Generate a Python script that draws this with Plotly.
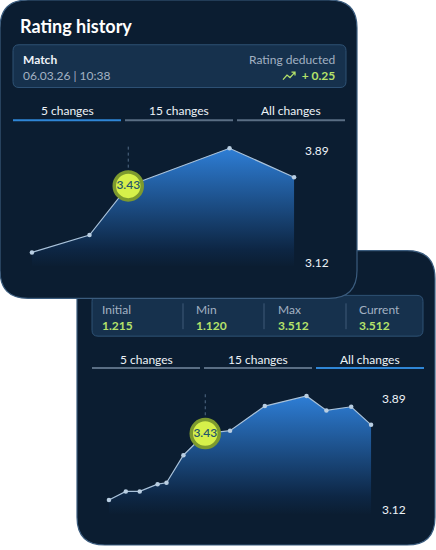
import plotly.graph_objects as go

# ---------------- data ----------------
x_all = [0, 17, 31, 49, 58, 75, 97, 122, 157, 199, 219, 244, 264]
y_all = [3.19, 3.25, 3.25, 3.30, 3.31, 3.50, 3.65, 3.67, 3.84, 3.91, 3.81, 3.835, 3.71]
five_idx = [0, 4, 6, 9, 12]          # points shown in "5 changes" view
highlight_idx = 6
highlight_label = "3.43"
tick_vals = [3.12, 3.89]
tick_text = ["3.12", "3.89"]
tabs = ["5 changes", "15 changes", "All changes"]
stat_names = ["Initial", "Min", "Max", "Current"]
stat_values = ["1.215", "1.120", "3.512", "3.512"]
match_title = "Match"
match_date = "06.03.26 | 10:38"
deducted_label = "Rating deducted"
deducted_value = "+ 0.25"

# ---------------- style ----------------
W, H = 436, 550
FONT = "Lato"
CARD_BG = "#0b1d31"
CARD_BORDER = "#3b5c7e"
BOX_BG = "#16314d"
BOX_BORDER = "#2e5275"
ACTIVE = "#2f86d6"
INACTIVE = "#5a6e84"
GREEN = "#b5e26a"
GREY_TXT = "#a3b2c3"
WHITE = "#eef3f8"
LINE_C = "#a9c2da"
Y_RANGE = [3.0925, 3.9725]
X_RANGE = [-10, 274]


def px(x):
    return x / W


def py(y):
    return 1 - y / H


def rrect(x0, y0, x1, y1, r):
    pts = [
        f"M{px(x0 + r)},{py(y0)}",
        f"L{px(x1 - r)},{py(y0)}",
        f"Q{px(x1)},{py(y0)} {px(x1)},{py(y0 + r)}",
        f"L{px(x1)},{py(y1 - r)}",
        f"Q{px(x1)},{py(y1)} {px(x1 - r)},{py(y1)}",
        f"L{px(x0 + r)},{py(y1)}",
        f"Q{px(x0)},{py(y1)} {px(x0)},{py(y1 - r)}",
        f"L{px(x0)},{py(y0 + r)}",
        f"Q{px(x0)},{py(y0)} {px(x0 + r)},{py(y0)}",
        "Z",
    ]
    return " ".join(pts)


shapes = []
annotations = []


def add_rect(x0, y0, x1, y1, r, fill, line, lw=1):
    shapes.append(dict(type="path", path=rrect(x0, y0, x1, y1, r), xref="paper", yref="paper",
                       fillcolor=fill, line=dict(color=line, width=lw), layer="below"))


def add_hline(x0, x1, y, color, w=2):
    shapes.append(dict(type="line", xref="paper", yref="paper", x0=px(x0), x1=px(x1),
                       y0=py(y), y1=py(y), line=dict(color=color, width=w), layer="below"))


def add_vline(x, y0, y1, color, w=1):
    shapes.append(dict(type="line", xref="paper", yref="paper", x0=px(x), x1=px(x),
                       y0=py(y0), y1=py(y1), line=dict(color=color, width=w), layer="below"))


def add_text(text, x, y, size=11, color=WHITE, anchor="left", weight=400):
    annotations.append(dict(text=text, x=px(x), y=py(y), xref="paper", yref="paper",
                            xanchor=anchor, yanchor="middle", showarrow=False, borderpad=0,
                            align=anchor if anchor != "center" else "center",
                            font=dict(family=FONT, size=size, color=color, weight=weight)))


def add_tabs(x_left, y_text, y_line, active_i):
    seg_w, gap = 108, 4
    for i, t in enumerate(tabs):
        a = x_left + i * (seg_w + gap)
        add_text(t, a + seg_w / 2, y_text, size=12, color=WHITE, anchor="center")
        add_hline(a, a + seg_w, y_line, ACTIVE if i == active_i else INACTIVE, 2)


# ---------- card 2 (behind) ----------
add_rect(77, 252, 435, 548, 28, CARD_BG, CARD_BORDER, 1.2)
add_rect(92, 297, 423, 338, 6, BOX_BG, BOX_BORDER, 1)
stat_x = [101, 195, 277, 358]
for i, (n, v) in enumerate(zip(stat_names, stat_values)):
    txt = (f"<span style='color:{GREY_TXT}'>{n}</span><br>"
           f"<span style='color:{GREEN}'><b>{v}</b></span>")
    add_text(txt, stat_x[i], 319, size=12, color=GREY_TXT)
for dx in [183, 264, 346]:
    add_vline(dx, 305, 331, "#3e5a78", 1)
add_tabs(92, 361, 370, 2)

# ---------- card 1 (front) ----------
add_rect(0, 0, 357, 300, 28, CARD_BG, CARD_BORDER, 1.2)
add_text("Rating history", 19, 26, size=18, color="#ffffff", weight=700)
add_rect(13, 45, 346, 88, 6, BOX_BG, BOX_BORDER, 1)
add_text(f"<b>{match_title}</b><br><span style='color:{GREY_TXT}'>{match_date}</span>",
         22, 68, size=12, color=WHITE)
add_text(f"{deducted_label}<br><span style='color:{GREEN}'><b>{deducted_value}</b></span>",
         336, 68, size=12, color=GREY_TXT, anchor="right")
# trending-up icon
icon = (f"M{px(283)},{py(80)} L{px(287)},{py(75.5)} L{px(290)},{py(78)} L{px(295)},{py(72.5)} "
        f"M{px(291.5)},{py(72.5)} L{px(295)},{py(72.5)} L{px(295)},{py(76)}")
shapes.append(dict(type="path", path=icon, xref="paper", yref="paper",
                   line=dict(color=GREEN, width=1.3), layer="below"))
add_tabs(13, 111.5, 121, 0)

# ---------------- traces ----------------
fig = go.Figure()


def add_chart(xs, ys, hx, hy, xa, ya):
    base = [Y_RANGE[0]] * len(xs)
    fig.add_trace(go.Scatter(x=xs, y=base, mode="lines", line=dict(width=0), hoverinfo="skip",
                             showlegend=False, xaxis=xa, yaxis=ya))
    fig.add_trace(go.Scatter(
        x=xs, y=ys, mode="lines+markers", fill="tonexty",
        fillgradient=dict(type="vertical", start=Y_RANGE[0], stop=max(ys),
                          colorscale=[[0, "rgba(11,29,49,1)"], [0.15, "rgba(13,38,68,1)"],
                                      [1, "rgba(46,126,214,1)"]]),
        line=dict(color=LINE_C, width=1.2), marker=dict(size=4.5, color="#b9cee2"),
        cliponaxis=False, showlegend=False, xaxis=xa, yaxis=ya))
    fig.add_trace(go.Scatter(
        x=[hx], y=[hy], mode="markers+text", text=[highlight_label], textposition="middle center",
        textfont=dict(family=FONT, size=12, color="#24566b", weight=600),
        marker=dict(size=28, color="#d6f04a", line=dict(color="#7d9a2e", width=3.5)),
        cliponaxis=False, showlegend=False, xaxis=xa, yaxis=ya))


x5 = [x_all[i] for i in five_idx]
y5 = [y_all[i] for i in five_idx]
add_chart(x5, y5, x_all[highlight_idx], y_all[highlight_idx], "x", "y")
add_chart(x_all, y_all, x_all[highlight_idx], y_all[highlight_idx], "x2", "y2")

# dashed guide lines (drawn below the traces)
for xr, yr in [("x", "y domain"), ("x2", "y2 domain")]:
    shapes.append(dict(type="line", xref=xr, yref=yr,
                       x0=x_all[highlight_idx], x1=x_all[highlight_idx], y0=0.07, y1=0.95,
                       line=dict(color="rgba(110,140,170,0.7)", width=1, dash="dot"),
                       layer="below"))

axis_common_x = dict(range=X_RANGE, showgrid=False, zeroline=False, showticklabels=False,
                     showline=False, fixedrange=True)
axis_common_y = dict(range=Y_RANGE, showgrid=False, zeroline=False, showline=False,
                     side="right", tickvals=tick_vals, ticktext=tick_text, ticks="",
                     ticklabelstandoff=0, fixedrange=True,
                     tickfont=dict(family=FONT, size=12, color=WHITE))

fig.update_layout(
    width=W, height=H,
    margin=dict(l=0, r=0, t=0, b=0),
    paper_bgcolor="#ffffff",
    plot_bgcolor="rgba(0,0,0,0)",
    xaxis=dict(domain=[px(22), px(304)], anchor="y", **axis_common_x),
    yaxis=dict(domain=[py(268), py(140)], anchor="x", **axis_common_y),
    xaxis2=dict(domain=[px(99), px(381)], anchor="y2", **axis_common_x),
    yaxis2=dict(domain=[py(517), py(389)], anchor="x2", **axis_common_y),
    shapes=shapes,
    annotations=annotations,
    showlegend=False,
)

fig.write_html("out.html", config={"displayModeBar": False},
               post_script="document.body.style.margin='0';")
